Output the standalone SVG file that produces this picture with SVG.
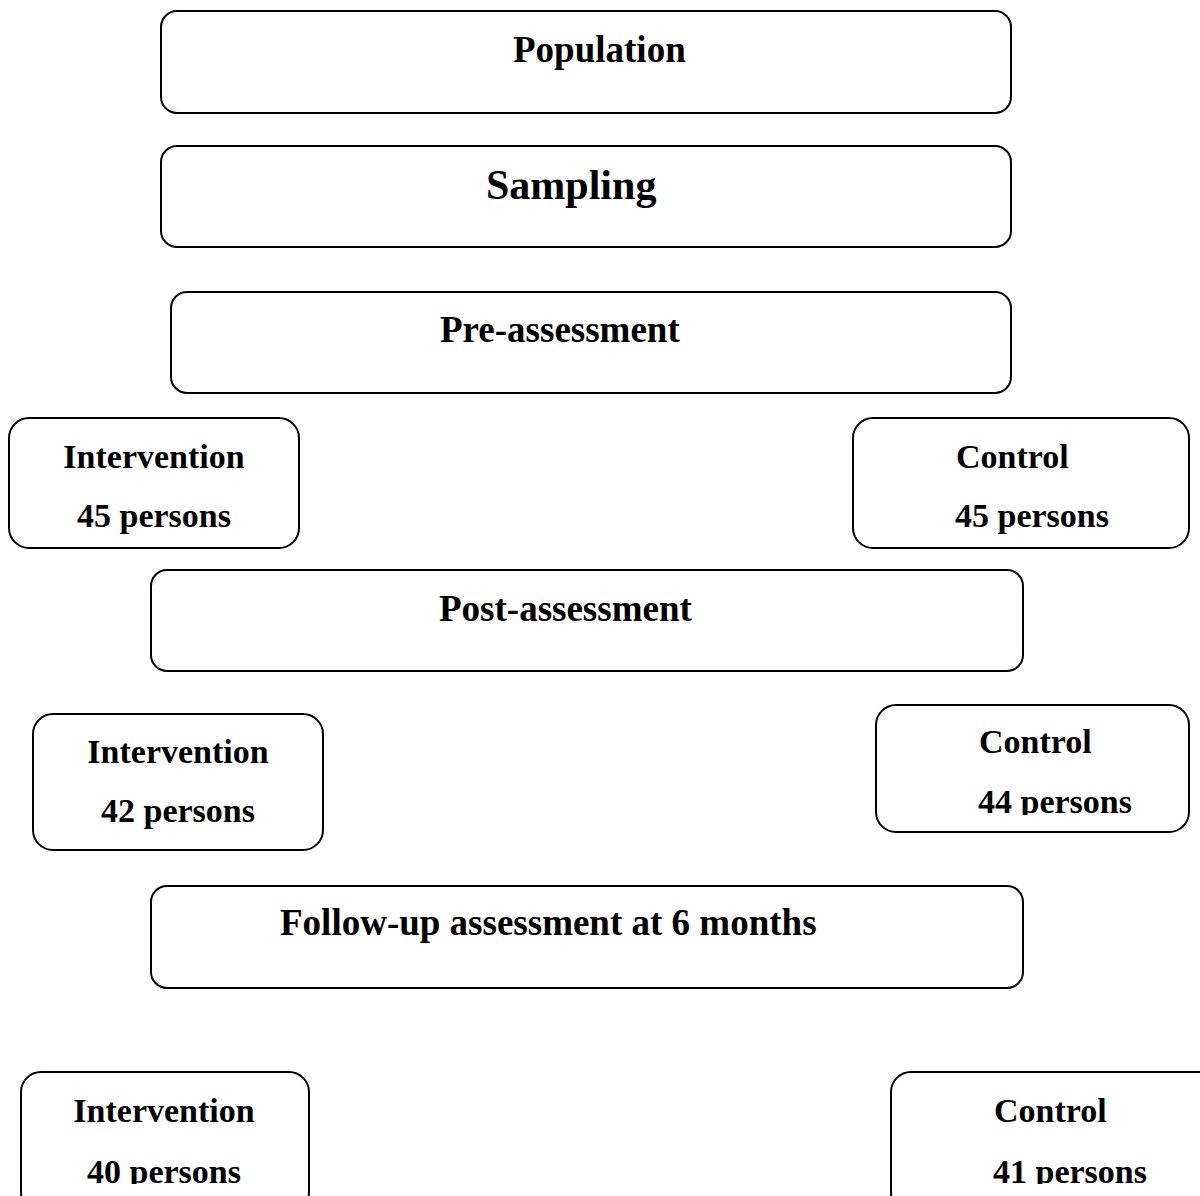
<svg xmlns="http://www.w3.org/2000/svg" width="1200" height="1196" viewBox="0 0 1200 1196">
<defs>
<style>
.box{fill:#fff;stroke:#000;stroke-width:2}
.t{font-family:"Liberation Serif","Times New Roman",serif;font-weight:bold;fill:#000}
.big{font-size:37px}
.sm{font-size:34px}
</style>
<clipPath id="c44"><rect x="870" y="700" width="330" height="115"/></clipPath>
<clipPath id="cbot"><rect x="0" y="1060" width="1200" height="124"/></clipPath>
</defs>
<rect width="1200" height="1196" fill="#fff"/>
<g id="connectors"></g>
<g id="population">
<rect class="box" x="161" y="11" width="850" height="102" rx="16"/>
<text class="t big" x="513" y="62">Population</text>
</g>
<g id="sampling">
<rect class="box" x="161" y="146" width="850" height="101" rx="16"/>
<text class="t" font-size="42" x="486" y="199">Sampling</text>
</g>
<g id="pre-assessment">
<rect class="box" x="171" y="292" width="840" height="101" rx="16"/>
<text class="t big" x="440" y="342">Pre-assessment</text>
</g>
<g id="intervention-1">
<rect class="box" x="9" y="418" width="290" height="130" rx="20"/>
<text class="t sm" x="154" y="468" text-anchor="middle">Intervention</text>
<text class="t sm" x="154" y="527" text-anchor="middle">45 persons</text>
</g>
<g id="control-1">
<rect class="box" x="853" y="418" width="336" height="130" rx="20"/>
<text class="t sm" x="956" y="468">Control</text>
<text class="t sm" x="955" y="527">45 persons</text>
</g>
<g id="post-assessment">
<rect class="box" x="151" y="570" width="872" height="101" rx="16"/>
<text class="t big" x="439" y="621">Post-assessment</text>
</g>
<g id="intervention-2">
<rect class="box" x="33" y="714" width="290" height="136" rx="20"/>
<text class="t sm" x="178" y="763" text-anchor="middle">Intervention</text>
<text class="t sm" x="178" y="822" text-anchor="middle">42 persons</text>
</g>
<g id="control-2">
<rect class="box" x="876" y="705" width="313" height="127" rx="20"/>
<text class="t sm" x="979" y="753">Control</text>
<text class="t sm" x="978" y="813" clip-path="url(#c44)">44 persons</text>
</g>
<g id="follow-up">
<rect class="box" x="151" y="886" width="872" height="102" rx="16"/>
<text class="t big" x="280" y="935">Follow-up assessment at 6 months</text>
</g>
<g id="intervention-3">
<rect class="box" x="21" y="1072" width="288" height="140" rx="20"/>
<text class="t sm" x="164" y="1122" text-anchor="middle">Intervention</text>
<text class="t sm" x="164" y="1183" text-anchor="middle" clip-path="url(#cbot)">40 persons</text>
</g>
<g id="control-3">
<rect class="box" x="891" y="1072" width="330" height="140" rx="20"/>
<text class="t sm" x="994" y="1122">Control</text>
<text class="t sm" x="993" y="1183" clip-path="url(#cbot)">41 persons</text>
</g>
</svg>
